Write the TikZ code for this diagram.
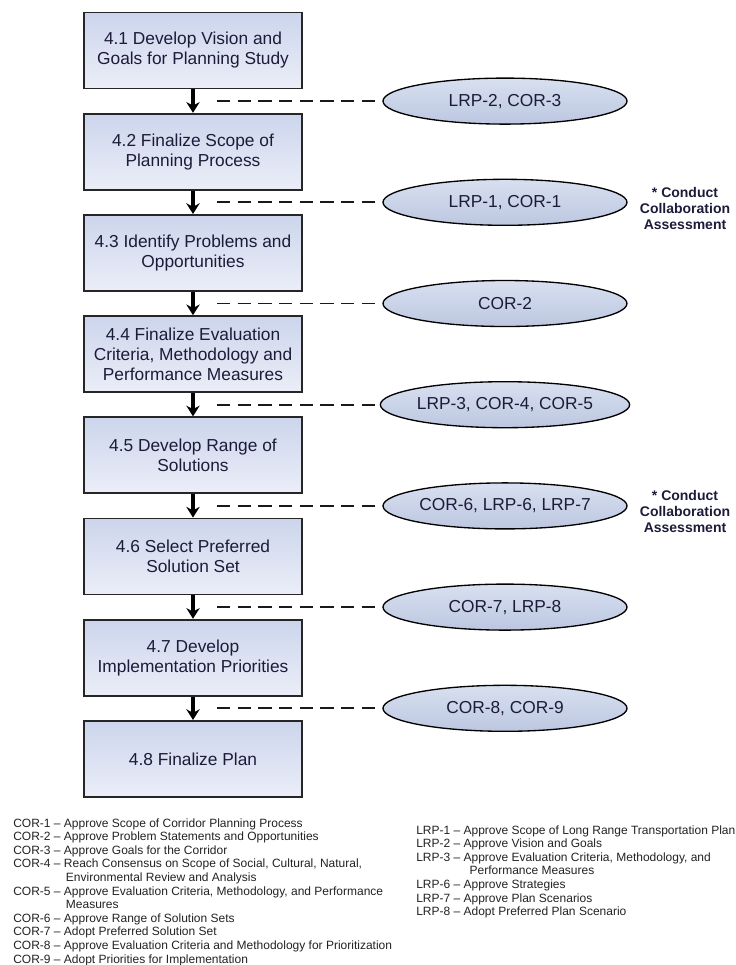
\documentclass[tikz,border=0pt]{standalone}
\usepackage{fontspec}
\setmainfont{Liberation Sans}
\usetikzlibrary{math,positioning,arrows.meta,shapes.geometric}

\definecolor{boxtop}{HTML}{CCD5EC}
\definecolor{boxbot}{HTML}{EBEEF8}
\definecolor{elltop}{HTML}{D8E0F0}
\definecolor{ellbot}{HTML}{BCC7E0}
\definecolor{txtnavy}{HTML}{1C1C3A}
\definecolor{legtxt}{HTML}{222222}

\tikzset{
  stepbox/.style={draw=black!85, line width=1.4pt, top color=boxtop, bottom color=boxbot,
    minimum width=163.5pt, minimum height=57pt, inner sep=0pt, align=center,
    text=txtnavy, font=\fontsize{13}{15}\selectfont},
  approval/.style={ellipse, draw=black, line width=1pt, top color=elltop, bottom color=ellbot,
    minimum width=183pt, minimum height=34.5pt, inner sep=0pt,
    text=txtnavy, font=\fontsize{13}{15}\selectfont},
  flow/.style={-{Stealth[length=8pt,width=10pt]}, line width=2.4pt},
  link/.style={line width=1.4pt, dash pattern=on 10pt off 5.5pt, black!90},
  note/.style={align=center, text=txtnavy, font=\bfseries\fontsize{10.5}{12}\selectfont},
  legend/.style={anchor=base west, inner sep=0pt, text=legtxt, font=\fontsize{9}{10.2}\selectfont}
}

\begin{document}
\begin{tikzpicture}[x=0.75pt, y=-0.75pt]
  \tikzmath{\bx = 193; \by = 50.5; \pitch = 101.2; \gx = 217; \ex = 505; \nx = 685;}
  \useasboundingbox (0,0) rectangle (736,965);

  \node[stepbox] (s1) at (\bx, \by) {4.1 Develop Vision and\\Goals for Planning Study};
  \node[stepbox] (s2) at (\bx, \by + \pitch) {4.2 Finalize Scope of\\Planning Process};
  \node[stepbox] (s3) at (\bx, \by + 2*\pitch) {4.3 Identify Problems and\\Opportunities};
  \node[stepbox] (s4) at (\bx, \by + 3*\pitch) {4.4 Finalize Evaluation\\Criteria, Methodology and\\Performance Measures};
  \node[stepbox] (s5) at (\bx, \by + 4*\pitch) {4.5 Develop Range of\\Solutions};
  \node[stepbox] (s6) at (\bx, \by + 5*\pitch) {4.6 Select Preferred\\Solution Set};
  \node[stepbox] (s7) at (\bx, \by + 6*\pitch) {4.7 Develop\\Implementation Priorities};
  \node[stepbox] (s8) at (\bx, \by + 7*\pitch) {4.8 Finalize Plan};

  \draw[flow] (s1) -- (s2);
  \draw[flow] (s2) -- (s3);
  \draw[flow] (s3) -- (s4);
  \draw[flow] (s4) -- (s5);
  \draw[flow] (s5) -- (s6);
  \draw[flow] (s6) -- (s7);
  \draw[flow] (s7) -- (s8);

  \node[approval] (e1) at (\ex, \by + 0.5*\pitch) {LRP-2, COR-3};
  \node[approval] (e2) at (\ex, \by + 1.5*\pitch) {LRP-1, COR-1};
  \node[approval] (e3) at (\ex, \by + 2.5*\pitch) {COR-2};
  \node[approval] (e4) at (\ex, \by + 3.5*\pitch) {LRP-3, COR-4, COR-5};
  \node[approval] (e5) at (\ex, \by + 4.5*\pitch) {COR-6, LRP-6, LRP-7};
  \node[approval] (e6) at (\ex, \by + 5.5*\pitch) {COR-7, LRP-8};
  \node[approval] (e7) at (\ex, \by + 6.5*\pitch) {COR-8, COR-9};

  \coordinate (d1) at (\gx, \by + 0.5*\pitch);
  \coordinate (d2) at (\gx, \by + 1.5*\pitch);
  \coordinate (d3) at (\gx, \by + 2.5*\pitch);
  \coordinate (d4) at (\gx, \by + 3.5*\pitch);
  \coordinate (d5) at (\gx, \by + 4.5*\pitch);
  \coordinate (d6) at (\gx, \by + 5.5*\pitch);
  \coordinate (d7) at (\gx, \by + 6.5*\pitch);
  \draw[link] (d1) -- (e1);
  \draw[link] (d2) -- (e2);
  \draw[link] (d3) -- (e3);
  \draw[link] (d4) -- (e4);
  \draw[link] (d5) -- (e5);
  \draw[link] (d6) -- (e6);
  \draw[link] (d7) -- (e7);

  \node[note] (n1) at (\nx, \by + 1.5*\pitch + 6) {* Conduct\\Collaboration\\Assessment};
  \node[note] (n2) at (\nx, \by + 4.5*\pitch + 6) {* Conduct\\Collaboration\\Assessment};

  \node[legend] (corkey) at (13, 827) {\begin{tabular}[t]{@{}l@{\ }l@{}}
    COR-1 -- & Approve Scope of Corridor Planning Process\\
    COR-2 -- & Approve Problem Statements and Opportunities\\
    COR-3 -- & Approve Goals for the Corridor\\
    COR-4 -- & Reach Consensus on Scope of Social, Cultural, Natural,\\
             & \hspace{1.5pt}Environmental Review and Analysis\\
    COR-5 -- & Approve Evaluation Criteria, Methodology, and Performance\\
             & \hspace{1.5pt}Measures\\
    COR-6 -- & Approve Range of Solution Sets\\
    COR-7 -- & Adopt Preferred Solution Set\\
    COR-8 -- & Approve Evaluation Criteria and Methodology for Prioritization\\
    COR-9 -- & Adopt Priorities for Implementation
  \end{tabular}};
  \node[legend] (lrpkey) at (416, 834) {\begin{tabular}[t]{@{}l@{\ }l@{}}
    LRP-1 -- & Approve Scope of Long Range Transportation Plan\\
    LRP-2 -- & Approve Vision and Goals\\
    LRP-3 -- & Approve Evaluation Criteria, Methodology, and\\
             & \hspace{4.5pt}Performance Measures\\
    LRP-6 -- & Approve Strategies\\
    LRP-7 -- & Approve Plan Scenarios\\
    LRP-8 -- & Adopt Preferred Plan Scenario
  \end{tabular}};
\end{tikzpicture}
\end{document}
